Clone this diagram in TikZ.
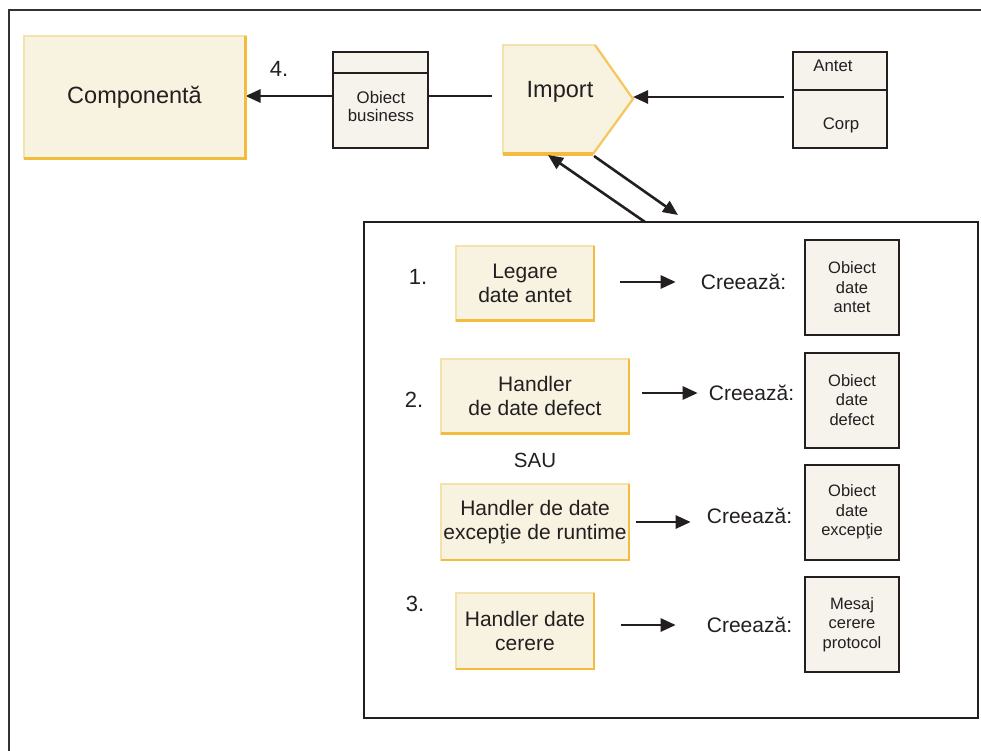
\documentclass[tikz,border=0pt]{standalone}
\usepackage{fontspec}
\setmainfont{Liberation Sans}
\usetikzlibrary{calc, positioning, arrows.meta}
\definecolor{creme}{RGB}{248,242,224}
\definecolor{pale}{RGB}{244,226,172}
\definecolor{ocre}{RGB}{243,188,62}
\definecolor{gris}{RGB}{246,243,236}
\definecolor{noir}{RGB}{35,31,32}
\definecolor{cadre}{RGB}{50,50,50}

\begin{document}
\begin{tikzpicture}[x=1pt,y=-1pt,color=noir]
  \tikzstyle{fleche}=[-{Triangle[length=15pt,width=13pt]},line width=2.6pt]
  \tikzstyle{jaune}=[draw=pale,line width=2pt,fill=creme,inner sep=0pt,
    outer sep=0pt,align=center,font=\fontsize{21}{24}\selectfont]
  \tikzstyle{bord}=[draw=ocre,line width=2.5pt]
  \tikzstyle{objet}=[draw=noir,line width=2pt,fill=gris,inner sep=0pt,
    minimum width=94pt,minimum height=95pt,align=center,
    font=\fontsize{16.5}{19.5}\selectfont]
  \tikzstyle{petit}=[inner sep=0pt,align=center,font=\fontsize{16.8}{18}\selectfont]
  \tikzstyle{nombre}=[inner sep=0pt,font=\fontsize{22}{24}\selectfont]
  \tikzstyle{cree}=[inner sep=0pt,font=\fontsize{21}{24}\selectfont]

  \useasboundingbox (0,0) rectangle (981,751);
  \draw[cadre,line width=2.8pt] (9,751) -- (9,10) -- (981,10);

  % haut : composant, objet business, import, message
  \node[jaune,minimum width=222pt,minimum height=122pt,
    font=\fontsize{23.5}{26}\selectfont] (comp) at (134.5,97.5) {Componentă};
  \node[objet,minimum width=95pt,minimum height=96pt] (obus) at (380.5,100) {};
  \draw[line width=1.8pt] (obus.west |- 0,73) -- (obus.east |- 0,73);
  \node[petit] (obust) at (381,106) {Obiect\\business};
  \node[nombre] (quatre) at (279,69) {4.};

  \fill[creme] (503,45) -- (595,45) -- (633,99) -- (593,154) -- (503,154) -- cycle;
  \draw[pale,line width=2.2pt] (503,154) -- (503,45) -- (595,45);
  \draw[ocre!85,line width=2.2pt] (595,45) -- (633,99) -- (593,154);
  \draw[ocre,line width=3.2pt] (593,154) -- (503,154);
  \node[inner sep=0pt,font=\fontsize{23.5}{26}\selectfont] (imp) at (560,92) {Import};
  \coordinate (imptip) at (633,97);
  \coordinate (impw) at (503,96);

  \node[objet,minimum width=94pt,minimum height=96pt] (entete) at (840,100) {};
  \draw[line width=1.8pt] (entete.west |- 0,90) -- (entete.east |- 0,90);
  \node[petit] (antet) at (833,66) {Antet};
  \node[petit] (corp) at (841,125) {Corp};

  \coordinate (flux) at (0,96);
  \draw[fleche] (obus.west |- flux) -- (comp.east |- flux);
  \draw[line width=2.6pt,shorten >=11pt] (obus.east |- flux) -- (impw);
  \draw[fleche,shorten <=8pt] (entete.west |- imptip) -- (imptip);

  % bloc des etapes
  \node[draw,line width=2.4pt,inner sep=0pt,minimum width=614pt,
    minimum height=496pt] (etapes) at (671,470) {};
  \coordinate (d1) at (645,222); \coordinate (f1) at (548,155);
  \coordinate (d2) at (594,156); \coordinate (f2) at (678,215);
  \draw[fleche] (d1) -- (f1);
  \draw[fleche] (d2) -- (f2);

  \node[jaune,minimum width=138pt,minimum height=75pt] (legare) at (525,283) {Legare\\date antet};
  \node[jaune,minimum width=188pt,minimum height=75pt] (defect) at (535,396) {Handler\\de date defect};
  \node[jaune,minimum width=188pt,minimum height=76pt] (runtime) at (535,522) {Handler de date\\excepţie de runtime};
  \node[jaune,minimum width=138pt,minimum height=76pt] (cerere) at (525,631) {Handler date\\cerere};
  \foreach \n in {comp,legare,defect,runtime,cerere}
    \draw[bord] (\n.north east) -- (\n.south east) -- (\n.south west);

  \node[nombre] (n1) at (418,277) {1.};
  \node[nombre] (n2) at (414,400) {2.};
  \node[nombre] (n3) at (415,604) {3.};
  \node[cree,font=\fontsize{20.5}{24}\selectfont] (sau) at (535,460) {SAU};

  \node[cree] (cr1) at (743.5,282) {Creează:};
  \node[cree] (cr2) at (751.5,393) {Creează:};
  \node[cree] (cr3) at (749.5,516) {Creează:};
  \node[cree] (cr4) at (749.5,625) {Creează:};

  \node[objet] (oantet) at (852,287.5) {Obiect\\date\\antet};
  \node[objet] (odefect) at (852,400) {Obiect\\date\\defect};
  \node[objet] (oexc) at (852,512) {Obiect\\date\\excepţie};
  \node[objet] (oproto) at (852,624.5) {Mesaj\\cerere\\protocol};

  \draw[fleche,shorten <=26pt,shorten >=25pt] (legare.east |- cr1) -- (cr1.west);
  \draw[fleche,shorten <=13pt,shorten >=11pt] (defect.east |- cr2) -- (cr2.west);
  \draw[fleche,shorten <=7pt,shorten >=16pt] (runtime.east) -- (runtime.east -| cr3.west);
  \draw[fleche,shorten <=27pt,shorten >=31pt] (cerere.east |- cr4) -- (cr4.west);
\end{tikzpicture}
\end{document}
